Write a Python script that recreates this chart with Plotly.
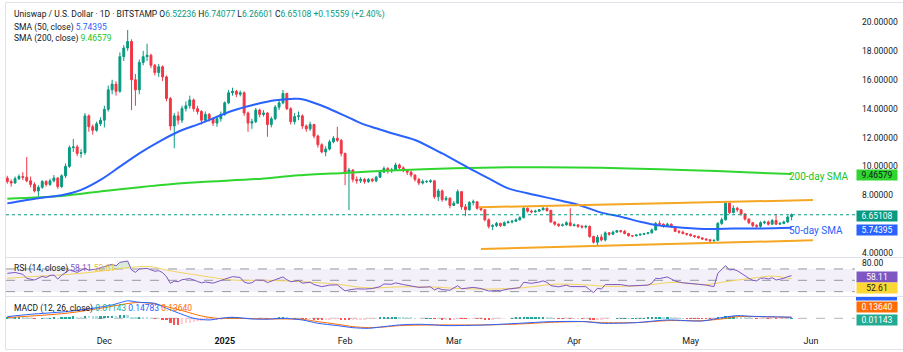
import plotly.graph_objects as go
import pandas as pd

# ---------------- data ----------------
dates = pd.date_range("2024-11-06", "2025-05-27", freq="D")
first_open = 9.20
last_open = 6.52236

closes = [
    # Nov
    8.95, 8.85, 9.15, 9.30, 9.25, 9.00, 8.75, 8.30, 8.55, 8.95, 8.75, 9.00, 9.20, 8.60, 9.35, 10.00, 11.30, 11.35, 10.90, 10.95, 13.50, 12.75, 12.50, 12.95, 13.20,
    # Dec
    13.95, 15.30, 15.70, 15.20, 17.60, 18.20, 18.65, 16.00, 15.30, 17.20, 17.60, 17.70, 17.00, 16.50, 16.90, 16.20, 14.70, 12.80, 13.50, 13.20, 14.00, 14.20, 14.60, 14.00, 13.80, 13.20, 13.60, 13.30, 13.00, 13.30, 13.60,
    # Jan
    14.40, 15.10, 15.20, 15.00, 15.10, 13.70, 13.00, 13.10, 13.90, 13.60, 13.70, 12.90, 13.30, 14.10, 14.40, 15.05, 14.00, 13.10, 13.45, 13.50, 12.80, 12.60, 12.90, 12.10, 11.50, 11.00, 11.20, 11.70, 11.95, 11.80, 10.90,
    # Feb
    9.60, 9.75, 9.10, 9.00, 9.10, 8.95, 9.10, 9.00, 9.25, 9.60, 9.85, 9.70, 9.75, 10.10, 9.90, 9.70, 9.60, 9.40, 9.10, 8.85, 8.95, 8.95, 9.00, 7.90, 8.30, 7.70, 7.80, 7.30,
    # Mar
    7.45, 8.25, 7.20, 7.00, 7.50, 7.55, 7.10, 7.00, 6.30, 5.85, 5.90, 6.05, 5.90, 6.10, 6.15, 6.20, 6.30, 6.45, 7.10, 6.90, 6.85, 6.90, 7.00, 7.10, 6.95, 6.15, 6.00, 5.90, 5.95, 6.10, 5.90,
    # Apr
    5.95, 5.85, 5.80, 5.85, 5.15, 4.75, 5.10, 4.90, 5.40, 5.30, 5.45, 5.55, 5.50, 5.35, 5.20, 5.20, 5.25, 5.30, 5.35, 5.40, 5.60, 6.05, 6.00, 5.85, 6.00, 5.80, 5.50, 5.45, 5.35, 5.30,
    # May
    5.20, 5.15, 5.05, 4.98, 4.92, 4.85, 4.88, 6.05, 6.30, 7.45, 6.80, 7.10, 7.00, 6.70, 6.35, 6.10, 5.90, 5.85, 6.10, 6.15, 6.00, 6.25, 6.00, 6.05, 6.15, 6.4955, 6.65108,
]
highs = [
    9.35, 9.10, 9.30, 9.45, 9.60, 10.65, 9.30, 8.90, 8.70, 9.05, 9.05, 9.15, 9.40, 9.25, 9.45, 10.20, 11.45, 11.90, 11.50, 11.20, 13.70, 13.60, 12.90, 13.10, 13.40,
    14.20, 15.60, 16.00, 15.90, 17.90, 18.40, 19.45, 18.80, 16.40, 17.40, 18.00, 18.50, 17.80, 17.10, 17.10, 17.00, 16.30, 14.80, 13.70, 13.80, 14.20, 14.50, 14.90, 14.70, 14.20, 13.90, 13.80, 13.70, 13.40, 13.50, 13.80,
    14.50, 15.30, 15.45, 15.30, 15.25, 15.20, 13.80, 13.30, 14.05, 14.00, 13.90, 13.75, 13.45, 14.25, 14.60, 15.30, 15.10, 14.10, 13.70, 13.80, 13.60, 12.90, 13.10, 12.95, 12.20, 11.60, 11.40, 11.85, 12.10, 12.75, 11.90,
    10.95, 9.90, 9.80, 9.30, 9.25, 9.20, 9.20, 9.20, 9.35, 9.70, 10.00, 9.95, 9.90, 10.25, 10.20, 10.00, 9.80, 9.70, 9.45, 9.20, 9.10, 9.05, 9.10, 9.05, 8.45, 8.40, 7.95, 7.85,
    7.60, 8.40, 8.30, 7.40, 7.60, 7.70, 7.60, 7.20, 7.05, 6.40, 6.00, 6.15, 6.10, 6.20, 6.25, 6.30, 6.40, 6.55, 7.20, 7.15, 7.00, 7.00, 7.05, 7.20, 7.15, 7.00, 6.20, 6.05, 6.05, 6.20, 7.10,
    6.05, 6.00, 5.95, 5.95, 5.90, 5.20, 5.25, 5.30, 5.50, 5.45, 5.55, 5.60, 5.60, 5.60, 5.40, 5.25, 5.30, 5.35, 5.40, 5.45, 5.70, 6.15, 6.25, 6.05, 6.10, 6.05, 5.85, 5.60, 5.55, 5.40,
    5.35, 5.25, 5.20, 5.10, 5.00, 4.95, 4.95, 6.15, 6.45, 7.55, 7.50, 7.30, 7.20, 7.05, 6.75, 6.40, 6.15, 6.00, 6.20, 6.25, 6.25, 6.35, 6.70, 6.15, 6.25, 6.60, 6.74077,
]
lows = [
    8.80, 8.60, 8.80, 9.05, 9.05, 8.90, 8.55, 8.20, 7.90, 8.45, 8.60, 8.65, 8.90, 8.45, 8.50, 9.20, 9.90, 11.00, 10.70, 10.60, 10.80, 12.40, 12.20, 12.40, 12.80,
    12.70, 13.80, 15.00, 14.90, 15.10, 17.30, 18.00, 13.90, 14.20, 15.00, 17.00, 17.30, 16.80, 16.30, 16.20, 15.90, 14.50, 12.50, 11.25, 12.90, 13.00, 13.80, 14.00, 13.80, 13.60, 12.90, 13.10, 13.10, 12.80, 12.75, 13.10,
    13.50, 14.30, 14.90, 14.80, 14.85, 13.50, 12.40, 12.60, 13.00, 13.40, 13.45, 12.05, 12.70, 13.20, 13.90, 14.30, 13.90, 12.90, 12.90, 13.20, 12.60, 12.40, 12.45, 11.95, 11.30, 10.90, 10.70, 11.10, 11.60, 11.70, 10.70,
    8.70, 6.98, 8.90, 8.80, 8.85, 8.80, 8.85, 8.90, 8.90, 9.20, 9.55, 9.50, 9.55, 9.70, 9.80, 9.60, 9.40, 9.25, 8.95, 8.70, 8.75, 8.85, 8.85, 7.75, 7.60, 7.55, 7.60, 7.10,
    7.25, 7.40, 7.00, 6.55, 6.95, 7.30, 7.00, 6.90, 6.20, 5.70, 5.60, 5.80, 5.80, 5.85, 6.05, 6.05, 6.15, 6.25, 6.40, 6.80, 6.75, 6.80, 6.85, 6.95, 6.85, 6.10, 5.90, 5.80, 5.85, 5.90, 5.85,
    5.85, 5.75, 5.70, 5.70, 5.05, 4.65, 4.55, 4.80, 4.80, 5.20, 5.25, 5.40, 5.40, 5.30, 5.15, 5.10, 5.15, 5.20, 5.25, 5.30, 5.35, 5.55, 5.90, 5.75, 5.80, 5.75, 5.45, 5.35, 5.30, 5.20,
    5.15, 5.05, 5.00, 4.92, 4.85, 4.75, 4.78, 4.85, 5.95, 6.25, 6.70, 6.75, 6.85, 6.60, 6.25, 6.00, 5.80, 5.75, 5.75, 6.00, 5.90, 5.95, 5.95, 5.95, 6.00, 6.10, 6.26601,
]
opens = [first_open] + closes[:-1]
opens[-1] = last_open
assert len(closes) == len(highs) == len(lows) == len(dates)

sma50_dates = ["2024-11-06", "2024-11-14", "2024-11-20", "2024-11-25", "2024-11-30", "2024-12-05", "2024-12-10",
               "2024-12-15", "2024-12-20", "2024-12-26", "2025-01-03", "2025-01-09", "2025-01-14", "2025-01-20",
               "2025-01-23", "2025-01-27", "2025-02-01", "2025-02-05", "2025-02-09", "2025-02-13", "2025-02-19",
               "2025-02-26", "2025-03-05", "2025-03-10", "2025-03-15", "2025-03-22", "2025-03-29", "2025-04-02",
               "2025-04-08", "2025-04-13", "2025-04-18", "2025-04-23", "2025-04-29", "2025-05-06", "2025-05-12",
               "2025-05-19", "2025-05-27"]
sma50_vals = [7.44, 7.80, 8.00, 8.37, 9.06, 9.98, 10.90, 11.70, 12.40, 13.00, 13.85, 14.30, 14.58, 14.68,
              14.50, 14.10, 13.50, 13.00, 12.64, 12.30, 11.83, 10.90, 9.87, 9.17, 8.48, 8.02, 7.60, 7.35,
              6.80, 6.52, 6.17, 5.90, 5.76, 5.67, 5.70, 5.70, 5.74395]

sma200_dates = ["2024-11-06", "2024-11-20", "2024-12-01", "2024-12-15", "2024-12-26", "2025-01-09", "2025-01-20",
                "2025-02-01", "2025-02-13", "2025-03-01", "2025-03-15", "2025-04-01", "2025-04-15", "2025-05-01",
                "2025-05-15", "2025-05-27"]
sma200_vals = [7.76, 7.95, 8.30, 8.70, 8.92, 9.12, 9.38, 9.55, 9.72, 9.88, 9.95, 9.93, 9.86, 9.74, 9.60, 9.46579]

upper_dates = ["2025-03-07 12:00", "2025-06-01 12:00"]
upper_vals = [7.17, 7.67]
lower_dates = ["2025-03-08", "2025-06-01 12:00"]
lower_vals = [4.28, 4.88]

rsi_dates = ["2024-11-06", "2024-11-08", "2024-11-10", "2024-11-11", "2024-11-13", "2024-11-15", "2024-11-16",
             "2024-11-17", "2024-11-18", "2024-11-19", "2024-11-20", "2024-11-21", "2024-11-22", "2024-11-24",
             "2024-11-26", "2024-11-27", "2024-11-29", "2024-12-01", "2024-12-03", "2024-12-04", "2024-12-05",
             "2024-12-06", "2024-12-07", "2024-12-08", "2024-12-09", "2024-12-10", "2024-12-12", "2024-12-14",
             "2024-12-15", "2024-12-16", "2024-12-17", "2024-12-18", "2024-12-19", "2024-12-20", "2024-12-21",
             "2024-12-23", "2024-12-24", "2024-12-25", "2024-12-26", "2024-12-27", "2024-12-29", "2024-12-31",
             "2025-01-01", "2025-01-03", "2025-01-05", "2025-01-06", "2025-01-07", "2025-01-08", "2025-01-09",
             "2025-01-11", "2025-01-12", "2025-01-14", "2025-01-16", "2025-01-17", "2025-01-18", "2025-01-20",
             "2025-01-21", "2025-01-23", "2025-01-24", "2025-01-26", "2025-01-28", "2025-01-30", "2025-01-31",
             "2025-02-01", "2025-02-02", "2025-02-04", "2025-02-06", "2025-02-08", "2025-02-10", "2025-02-11",
             "2025-02-13", "2025-02-14", "2025-02-16", "2025-02-18", "2025-02-20", "2025-02-23", "2025-02-24",
             "2025-02-25", "2025-02-26", "2025-02-28", "2025-03-02", "2025-03-03", "2025-03-05", "2025-03-06",
             "2025-03-08", "2025-03-09", "2025-03-10", "2025-03-12", "2025-03-13", "2025-03-15", "2025-03-17",
             "2025-03-18", "2025-03-19", "2025-03-21", "2025-03-23", "2025-03-24", "2025-03-25", "2025-03-26",
             "2025-03-28", "2025-03-30", "2025-03-31", "2025-04-02", "2025-04-04", "2025-04-05", "2025-04-06",
             "2025-04-07", "2025-04-08", "2025-04-09", "2025-04-11", "2025-04-13", "2025-04-15", "2025-04-17",
             "2025-04-20", "2025-04-21", "2025-04-22", "2025-04-23", "2025-04-25", "2025-04-26", "2025-04-27",
             "2025-04-29", "2025-05-01", "2025-05-03", "2025-05-05", "2025-05-07", "2025-05-08", "2025-05-09",
             "2025-05-10", "2025-05-11", "2025-05-12", "2025-05-13", "2025-05-14", "2025-05-15", "2025-05-16",
             "2025-05-17", "2025-05-18", "2025-05-19", "2025-05-20", "2025-05-21", "2025-05-22", "2025-05-23",
             "2025-05-24", "2025-05-25", "2025-05-26", "2025-05-27"]
rsi_vals = [62.3, 63.8, 60.6, 53.5, 50.5, 57.0, 55.0,
            58.5, 59.3, 52.0, 59.0, 64.0, 68.2, 64.0,
            71.2, 68.0, 70.0, 74.2, 78.2, 75.5, 81.7,
            82.9, 84.0, 68.2, 64.1, 70.0, 71.0, 66.0,
            67.0, 63.5, 56.4, 44.7, 48.5, 47.5, 51.0,
            53.0, 50.0, 48.0, 45.5, 47.0, 45.0, 49.0,
            52.0, 56.4, 55.0, 47.0, 44.7, 45.5, 50.5,
            50.0, 46.0, 51.0, 56.0, 51.0, 47.5, 49.5,
            45.0, 46.5, 42.5, 38.8, 41.5, 42.0, 36.5,
            31.2, 33.0, 35.0, 34.5, 35.5, 38.8, 43.5,
            43.0, 45.5, 42.5, 39.5, 37.5, 38.5, 33.0,
            36.0, 33.5, 32.5, 40.5, 35.0, 37.5, 37.5,
            35.5, 33.0, 31.0, 32.0, 31.6, 34.5, 36.0,
            37.0, 46.5, 44.7, 47.0, 49.0, 46.5, 40.5,
            38.5, 41.5, 39.0, 38.8, 38.8, 33.5, 28.2,
            36.0, 34.5, 42.5, 43.0, 42.5, 40.0, 40.5,
            41.5, 45.0, 53.5, 53.0, 56.0, 52.3, 48.6,
            45.5, 44.7, 43.0, 41.5, 38.8, 62.3, 68.2,
            75.8, 68.2, 69.0, 67.0, 62.0, 57.0, 53.5,
            50.0, 49.0, 53.5, 54.0, 52.3, 54.6, 50.5,
            51.5, 53.5, 56.5, 58.11]

rsima_dates = ["2024-11-06", "2024-11-12", "2024-11-21", "2024-11-30", "2024-12-08", "2024-12-13", "2024-12-17",
               "2024-12-26", "2025-01-03", "2025-01-12", "2025-01-21", "2025-01-30", "2025-02-07", "2025-02-15",
               "2025-02-24", "2025-03-01", "2025-03-10", "2025-03-19", "2025-03-27", "2025-04-05", "2025-04-09",
               "2025-04-18", "2025-04-27", "2025-05-05", "2025-05-10", "2025-05-18", "2025-05-22", "2025-05-27"]
rsima_vals = [53.5, 56.4, 60.0, 66.0, 73.0, 74.0, 68.0, 58.0, 50.5, 50.0, 47.6, 43.0, 36.5, 38.5,
              38.0, 36.0, 34.5, 37.0, 43.0, 41.5, 39.5, 40.5, 46.5, 42.5, 47.6, 54.6, 57.5, 52.61]

macd_dates = ["2024-11-06", "2024-11-12", "2024-11-21", "2024-11-28", "2024-12-03", "2024-12-06", "2024-12-07",
              "2024-12-10", "2024-12-14", "2024-12-17", "2024-12-21", "2024-12-24", "2024-12-28", "2024-12-31",
              "2025-01-03", "2025-01-08", "2025-01-12", "2025-01-16", "2025-01-21", "2025-01-25", "2025-01-30",
              "2025-02-03", "2025-02-07", "2025-02-11", "2025-02-15", "2025-02-20", "2025-02-24", "2025-02-27",
              "2025-03-09", "2025-03-18", "2025-03-26", "2025-04-04", "2025-04-08", "2025-04-17", "2025-04-25",
              "2025-05-04", "2025-05-09", "2025-05-13", "2025-05-17", "2025-05-27"]
macd_vals = [0.23, 0.55, 0.91, 1.37, 1.83, 2.28, 2.40, 2.19, 2.05, 1.37, 0.55, 0.00, -0.23, 0.00,
             0.14, -0.09, -0.12, 0.00, -0.23, -0.68, -1.00, -1.28, -1.37, -1.14, -0.91, -0.82, -0.91, -1.00,
             -0.91, -0.68, -0.46, -0.46, -0.68, -0.59, -0.23, -0.37, 0.09, 0.37, 0.27, 0.14783]

signal_dates = ["2024-11-06", "2024-11-21", "2024-11-30", "2024-12-09", "2024-12-13", "2024-12-17", "2024-12-22",
                "2024-12-26", "2024-12-30", "2025-01-03", "2025-01-12", "2025-01-21", "2025-01-25", "2025-01-30",
                "2025-02-03", "2025-02-07", "2025-02-11", "2025-02-15", "2025-02-24", "2025-03-09", "2025-03-18",
                "2025-03-26", "2025-04-04", "2025-04-08", "2025-04-17", "2025-04-25", "2025-05-04", "2025-05-09",
                "2025-05-13", "2025-05-17", "2025-05-27"]
signal_vals = [0.10, 0.68, 1.37, 2.15, 2.05, 1.60, 0.91, 0.32, 0.00, 0.00, -0.09, -0.14, -0.46, -0.82,
               -1.14, -1.28, -1.19, -1.00, -0.91, -0.91, -0.78, -0.55, -0.46, -0.59, -0.59, -0.32, -0.32, -0.09,
               0.23, 0.23, 0.13640]

hist_vals = [
    0.12, 0.10, 0.14, 0.15, 0.13, 0.08, 0.04, -0.02, 0.00, 0.03, 0.02, 0.04, 0.06, 0.02, 0.06, 0.12, 0.20, 0.25, 0.22, 0.20, 0.32, 0.30, 0.26, 0.25, 0.26,
    0.30, 0.36, 0.38, 0.33, 0.42, 0.45, 0.44, 0.22, 0.10, 0.15, 0.12, 0.08, 0.02, -0.05, -0.05, -0.12, -0.30, -0.60, -0.85, -0.90, -0.80, -0.70, -0.60, -0.50, -0.42, -0.36, -0.30, -0.25, -0.22, -0.18, -0.12,
    -0.05, 0.05, 0.10, 0.12, 0.10, 0.02, -0.05, -0.06, -0.02, -0.03, -0.02, -0.06, -0.04, 0.02, 0.05, 0.10, 0.06, 0.00, -0.01, 0.00, -0.04, -0.06, -0.05, -0.10, -0.14, -0.18, -0.17, -0.12, -0.08, -0.06, -0.12,
    -0.22, -0.25, -0.24, -0.20, -0.16, -0.12, -0.08, -0.05, -0.01, 0.05, 0.10, 0.12, 0.14, 0.16, 0.15, 0.13, 0.10, 0.08, 0.04, 0.00, 0.00, 0.01, 0.02, -0.08, -0.07, -0.10, -0.10, -0.13,
    -0.12, -0.02, -0.06, -0.08, -0.04, -0.01, -0.03, -0.04, -0.10, -0.14, -0.12, -0.08, -0.06, -0.03, 0.00, 0.02, 0.05, 0.08, 0.14, 0.15, 0.15, 0.15, 0.15, 0.15, 0.12, 0.05, 0.00, -0.03, -0.04, -0.03, -0.05,
    -0.05, -0.05, -0.06, -0.06, -0.10, -0.14, -0.12, -0.12, -0.05, -0.03, 0.00, 0.03, 0.04, 0.04, 0.03, 0.03, 0.03, 0.04, 0.04, 0.05, 0.07, 0.12, 0.13, 0.12, 0.12, 0.10, 0.06, 0.03, 0.01, -0.01,
    -0.02, -0.04, -0.05, -0.06, -0.07, -0.08, -0.08, 0.05, 0.12, 0.25, 0.25, 0.26, 0.24, 0.18, 0.12, 0.06, 0.00, -0.04, -0.04, -0.04, -0.05, -0.03, -0.04, -0.04, -0.02, 0.00, 0.01143,
]
assert len(hist_vals) == len(dates)

price_ticks = [4, 8, 10, 12, 14, 16, 18, 20]
rsi_ticks = [80]
month_ticks = ["2024-12-01", "2025-01-01", "2025-02-01", "2025-03-01", "2025-04-01", "2025-05-01", "2025-06-01"]
month_labels = ["Dec", "<b>2025</b>", "Feb", "Mar", "Apr", "May", "Jun"]

# ---------------- style ----------------
W, H = 903, 352
B = 18
PH = H - B          # plot-area height in px
X0, X1 = 6, 855     # pane left / right edge in px
TXT = "#131722"
UP, DN = "#089981", "#f23645"
BLUE, GREEN, ORANGE = "#2962ff", "#2fd62f", "#f5a623"
PURPLE, YELLOW = "#7e57c2", "#f2d45c"
GRID = "#e0e3eb"


def py(pix):
    return 1 - pix / PH


def px(pix):
    return pix / W


# histogram colours (TradingView rule)
hist_colors = []
prev = 0.0
for v in hist_vals:
    if v >= 0:
        hist_colors.append("#26a69a" if v >= prev else "#b2dfdb")
    else:
        hist_colors.append("#ffcdd2" if v >= prev else "#ff5252")
    prev = v

fig = go.Figure()

fig.add_trace(go.Candlestick(
    x=dates, open=opens, high=highs, low=lows, close=closes,
    increasing=dict(line=dict(color=UP, width=1), fillcolor=UP),
    decreasing=dict(line=dict(color=DN, width=1), fillcolor=DN),
    whiskerwidth=0, xaxis="x", yaxis="y", hoverinfo="skip"))

fig.add_trace(go.Scatter(x=sma200_dates, y=sma200_vals, mode="lines",
                         line=dict(color=GREEN, width=2, shape="spline", smoothing=0.8),
                         xaxis="x", yaxis="y", hoverinfo="skip"))
fig.add_trace(go.Scatter(x=sma50_dates, y=sma50_vals, mode="lines",
                         line=dict(color=BLUE, width=2, shape="spline", smoothing=0.8),
                         xaxis="x", yaxis="y", hoverinfo="skip"))
fig.add_trace(go.Scatter(x=upper_dates, y=upper_vals, mode="lines",
                         line=dict(color=ORANGE, width=2), xaxis="x", yaxis="y", hoverinfo="skip"))
fig.add_trace(go.Scatter(x=lower_dates, y=lower_vals, mode="lines",
                         line=dict(color=ORANGE, width=2), xaxis="x", yaxis="y", hoverinfo="skip"))

# overbought fill (RSI above 70)
fig.add_trace(go.Scatter(x=rsi_dates, y=[70] * len(rsi_dates), mode="lines", line=dict(width=0),
                         xaxis="x", yaxis="y2", hoverinfo="skip"))
fig.add_trace(go.Scatter(x=rsi_dates, y=[max(v, 70) for v in rsi_vals], mode="lines", line=dict(width=0),
                         fill="tonexty", fillcolor="rgba(76,175,80,0.22)", xaxis="x", yaxis="y2",
                         hoverinfo="skip"))
fig.add_trace(go.Scatter(x=rsima_dates, y=rsima_vals, mode="lines",
                         line=dict(color=YELLOW, width=1, shape="spline", smoothing=1.0),
                         xaxis="x", yaxis="y2", hoverinfo="skip"))
fig.add_trace(go.Scatter(x=rsi_dates, y=rsi_vals, mode="lines",
                         line=dict(color=PURPLE, width=1), xaxis="x", yaxis="y2", hoverinfo="skip"))

fig.add_trace(go.Bar(x=dates, y=hist_vals, marker=dict(color=hist_colors, line=dict(width=0)),
                     width=0.6 * 86400000, xaxis="x", yaxis="y3", hoverinfo="skip"))
fig.add_trace(go.Scatter(x=signal_dates, y=signal_vals, mode="lines",
                         line=dict(color="#ff6d00", width=1, shape="spline", smoothing=0.8),
                         xaxis="x", yaxis="y3", hoverinfo="skip"))
fig.add_trace(go.Scatter(x=macd_dates, y=macd_vals, mode="lines",
                         line=dict(color=BLUE, width=1, shape="spline", smoothing=0.8),
                         xaxis="x", yaxis="y3", hoverinfo="skip"))

# ---------------- axes ----------------
fig.update_layout(
    width=W, height=H, margin=dict(l=0, r=0, t=0, b=B),
    paper_bgcolor="white", plot_bgcolor="white", showlegend=False,
    font=dict(family="Roboto, Arial, sans-serif", size=9, color=TXT),
    bargap=0,
    xaxis=dict(domain=[px(X0), px(X1)], type="date",
               range=["2024-11-05 16:00", "2025-06-12 08:00"],
               anchor="y3", showgrid=False, zeroline=False, showline=False,
               tickvals=month_ticks, ticktext=month_labels, ticks="",
               tickfont=dict(size=9, color=TXT), rangeslider=dict(visible=False)),
    yaxis=dict(domain=[py(257), py(4)], range=[3.726, 21.247], side="right", anchor="x",
               showgrid=False, zeroline=False, tickvals=price_ticks,
               ticktext=[f"{v:.5f}" for v in price_ticks], ticks="", ticklabelstandoff=6,
               tickfont=dict(size=8.5, color=TXT)),
    yaxis2=dict(domain=[py(296), py(258)], range=[22.31, 89.33], side="right", anchor="x",
                showgrid=False, zeroline=False, tickvals=rsi_ticks,
                ticktext=[f"{v:.2f}" for v in rsi_ticks], ticks="", ticklabelstandoff=6,
                tickfont=dict(size=8.5, color=TXT)),
    yaxis3=dict(domain=[py(334), py(297)], range=[-2.15, 2.918], side="right", anchor="x",
                showgrid=False, zeroline=False, showticklabels=False),
)

shapes = []
# RSI band and levels
shapes.append(dict(type="rect", xref="paper", yref="y2", x0=px(X0), x1=px(X1), y0=30, y1=70,
                   fillcolor="rgba(126,87,194,0.09)", line=dict(width=0), layer="below"))
for lv in [70, 50, 30]:
    shapes.append(dict(type="line", xref="paper", yref="y2", x0=px(X0), x1=px(X1), y0=lv, y1=lv,
                       line=dict(color="#9598a1", width=1, dash="dash"), layer="below"))
# MACD zero line
shapes.append(dict(type="line", xref="paper", yref="y3", x0=px(X0), x1=px(X1), y0=0, y1=0,
                   line=dict(color="#b2b5be", width=1, dash="dash"), layer="below"))
# last price dotted line
shapes.append(dict(type="line", xref="paper", yref="y", x0=px(X0), x1=px(X1), y0=closes[-1], y1=closes[-1],
                   line=dict(color=UP, width=1, dash="dot")))
# pane separators and frame
for yy in [257.5, 296.5]:
    shapes.append(dict(type="line", xref="paper", yref="paper", x0=px(X0), x1=1, y0=py(yy), y1=py(yy),
                       line=dict(color=GRID, width=1)))
shapes.append(dict(type="line", xref="paper", yref="paper", x0=px(X0), x1=1, y0=py(2.5), y1=py(2.5),
                   line=dict(color=GRID, width=1)))
shapes.append(dict(type="line", xref="paper", yref="paper", x0=px(X0), x1=1, y0=py(349.5), y1=py(349.5),
                   line=dict(color=GRID, width=1)))
shapes.append(dict(type="line", xref="paper", yref="paper", x0=px(5.5), x1=px(5.5), y0=py(2.5), y1=py(349.5),
                   line=dict(color=GRID, width=1)))
# blue MACD value box sliver at top of MACD pane
shapes.append(dict(type="rect", xref="paper", yref="paper", x0=px(856), x1=px(897), y0=py(300.5), y1=py(297),
                   fillcolor=BLUE, line=dict(width=0)))
fig.update_layout(shapes=shapes)

ann = []


def label(text, x, y, size=8.5, color=TXT):
    ann.append(dict(text=text, xref="paper", yref="paper", x=px(x), y=py(y), xanchor="left",
                    yanchor="middle", showarrow=False, font=dict(size=size, color=color)))


def vbox(text, y, bg, fg="white"):
    ann.append(dict(text=text, xref="paper", yref="paper", x=px(856), y=py(y), xanchor="left",
                    yanchor="middle", showarrow=False, bgcolor=bg, width=39, height=9, borderpad=0.5,
                    align="center", font=dict(size=8.5, color=fg)))


g = UP
label(f"Uniswap / U.S. Dollar · 1D · BITSTAMP O<span style='color:{g}'>6.52236</span> "
      f"H<span style='color:{g}'>6.74077</span> L<span style='color:{g}'>6.26601</span> "
      f"C<span style='color:{g}'>6.65108</span> <span style='color:{g}'>+0.15559 (+2.40%)</span>", 12, 15)
label(f"SMA (50, close) <span style='color:{BLUE}'>5.74395</span>", 12, 27)
label(f"SMA (200, close) <span style='color:#22c322'>9.46579</span>", 12, 39)
label(f"RSI (14, close) <span style='color:{PURPLE}'>58.11</span> <span style='color:#e8c23a'>52.61</span>", 12, 268.5)
label(f"MACD (12, 26, close) <span style='color:#22ab94'>0.01143</span> <span style='color:{BLUE}'>0.14783</span> "
      f"<span style='color:#ff6d00'>0.13640</span>", 12, 308.5)
label("200-day SMA", 787, 176, size=10, color="#22c322")
label("50-day SMA", 787, 231, size=10, color=BLUE)

vbox("9.46579", 174.7, GREEN, TXT)
vbox("6.65108", 215.7, UP)
vbox("5.74395", 229.5, BLUE)
vbox("58.11", 276.7, PURPLE)
vbox("52.61", 287.7, "#fdd835", TXT)
vbox("0.13640", 306.7, "#ff6d00")
vbox("0.01143", 320, "#22ab94")
fig.update_layout(annotations=ann)

fig.write_html("out.html")
